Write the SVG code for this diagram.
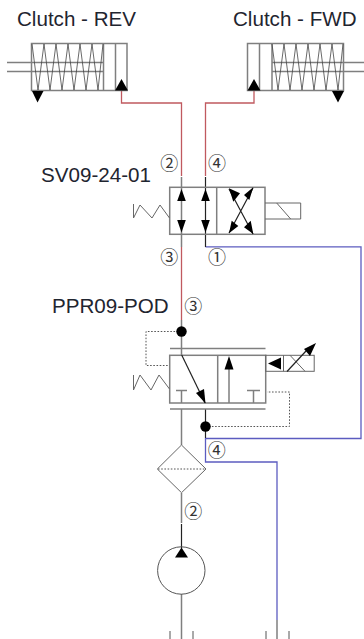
<svg xmlns="http://www.w3.org/2000/svg" width="364" height="639" viewBox="0 0 364 639">
<style>
.g{fill:none;stroke:#7f7f7f;stroke-width:1.5}
.s{fill:none;stroke:#666;stroke-width:1}
.k{fill:none;stroke:#222;stroke-width:1.2}
.c{fill:none;stroke:#444;stroke-width:.8}
.t{fill:none;stroke:#555;stroke-width:1}
.r{fill:none;stroke:#c0595f;stroke-width:1.3}
.b{fill:none;stroke:#5c5cc0;stroke-width:1.3}
.d{fill:none;stroke:#555;stroke-width:1;stroke-dasharray:1.6 1.6}
.a{fill:#000;stroke:none}
.l{font-family:"Liberation Sans",Arial,sans-serif;font-size:20.6px;fill:#1f2530}
.n{font-family:"Noto Sans CJK JP","DejaVu Sans",sans-serif;font-size:18px;fill:#333;text-anchor:middle}
</style>
<rect width="364" height="639" fill="#fff"/>
<g id="connectors">
<path class="r" d="M121.500 90V103H181.500V176"/>
<path class="r" d="M254 90V103H205.500V176"/>
<path class="r" d="M181.500 247V320"/>
<path class="b" d="M205.500 246.800H361V438.500H205.500"/>
<path class="b" d="M205.500 438V462H277V620"/>
<path class="g" d="M181.500 177V247"/>
<path class="g" d="M181.500 320V355"/>
<path class="k" d="M205.500 177V247"/>
<path class="g" d="M181.500 409V445"/>
<path class="k" d="M205.500 409V438"/>
<path class="g" d="M181.500 493V523"/>
<path class="k" d="M181.500 524V548"/>
<path class="g" d="M181.500 594V639"/>
<path class="g" d="M277 620V639"/>
<path class="t" d="M170 631V639M193 631V639M266 631V639M289 631V639"/>
<path class="d" d="M181.500 331.500H146V365.500H170"/>
<path class="d" d="M205.500 426.500H289.500V392H267"/>
</g>
<g id="clutch-rev">
<rect class="g" x="31.500" y="43.500" width="95.500" height="47"/>
<path class="g" d="M103.500 43.500V90.500M115.500 43.500V90.500M7 62.500H103.500M7 71.500H103.500"/>
<path class="c" d="M32 44L38 90L44 44L50 90L56 44L62 90L68 44L74 90L80 44L86 90L92 44L98 90L103 44"/>
<path class="a" d="M32 91H43.500L37.500 102.500Z"/>
<path class="a" d="M115 90.500H128L121.500 79Z"/>
<text class="l" x="17" y="26">Clutch - REV</text>
</g>
<g id="clutch-fwd">
<rect class="g" x="247.500" y="43.500" width="96" height="47"/>
<path class="g" d="M259.500 43.500V90.500M272 43.500V90.500M272 62.500H364M272 71.500H364"/>
<path class="c" d="M272 44L278 90L284 44L290 90L296 44L302 90L308 44L314 90L320 44L326 90L332 44L338 90L343 44"/>
<path class="a" d="M332 91H344L338 102.500Z"/>
<path class="a" d="M247.500 90.500H260.500L254 79Z"/>
<text class="l" x="233" y="26">Clutch - FWD</text>
</g>
<g id="sv09-24-01">
<rect class="g" x="169.700" y="187.300" width="95.300" height="47"/>
<path class="g" d="M216.700 187.300V234.300"/>
<path class="s" d="M133.500 204V218L140 205L152 218L160 205L169.500 218"/>
<path class="s" d="M265 203H300.700V219H265M276.700 203L290.700 219"/>
<path class="a" d="M181.500 189L177.200 201H185.800Z M181.500 232.500L177.200 220H185.800Z M205.500 189L201.200 201H209.800Z M205.500 232.500L201.200 220H209.800Z"/>
<path class="k" d="M253 188L229 233M229 189L253 234" stroke-width="1"/>
<path class="a" d="M229 188.300L240 193.300L233.300 201.700Z M253.300 187.300L249.300 200L244 195Z M229 233.300L231.700 220.700L238.300 226Z M253.300 234L244 227.300L250.700 220.700Z"/>
<text class="l" x="41" y="182">SV09-24-01</text>
<text class="n" x="169.300" y="169.500">②</text>
<text class="n" x="217" y="169.500">④</text>
<text class="n" x="169.300" y="264">③</text>
<text class="n" x="217" y="264">①</text>
</g>
<g id="ppr09-pod">
<path class="g" d="M170 348.500H265.500M170 409H265.500"/>
<rect class="g" x="169.700" y="355.300" width="96" height="47.700"/>
<path class="g" d="M217.700 355.300V403M229 369V403M176 390.500H187M181.500 390.500V403M247 390.500H260M253.500 390.500V403"/>
<path class="k" d="M181.700 355L205 403" stroke-width="1"/>
<path class="a" d="M205.500 403.500L196 393L204 389Z"/>
<path class="a" d="M229 356L224.500 369.500H233.500Z"/>
<rect class="s" x="265.700" y="355.300" width="48.500" height="16"/>
<path class="s" d="M283.500 355.300V371.300M290 355.300L305 371.300"/>
<path class="k" d="M287 371.500L306 351" stroke-width="1"/>
<path class="a" d="M268 363.500L281 357.500V369.500Z"/>
<path class="a" d="M316 343L304 349L310 356Z"/>
<path class="s" d="M133.500 375V390L140 375L151 390L159 375L169.500 389"/>
<circle class="a" cx="181.500" cy="331.500" r="5.200"/>
<circle class="a" cx="205.500" cy="426.500" r="5.200"/>
<text class="l" x="52" y="313">PPR09-POD</text>
<text class="n" x="193.300" y="313">③</text>
<text class="n" x="216.700" y="456.500">④</text>
</g>
<g id="filter">
<path class="s" d="M181.500 445L206 469L181.500 492.700L157.300 469Z"/>
<path class="d" d="M158 469H205"/>
<text class="n" x="193.300" y="517.500">②</text>
</g>
<g id="pump">
<circle class="t" cx="181.300" cy="570.500" r="23.700"/>
<path class="a" d="M181.500 547.500L175 557.500H188Z"/>
</g>
</svg>
